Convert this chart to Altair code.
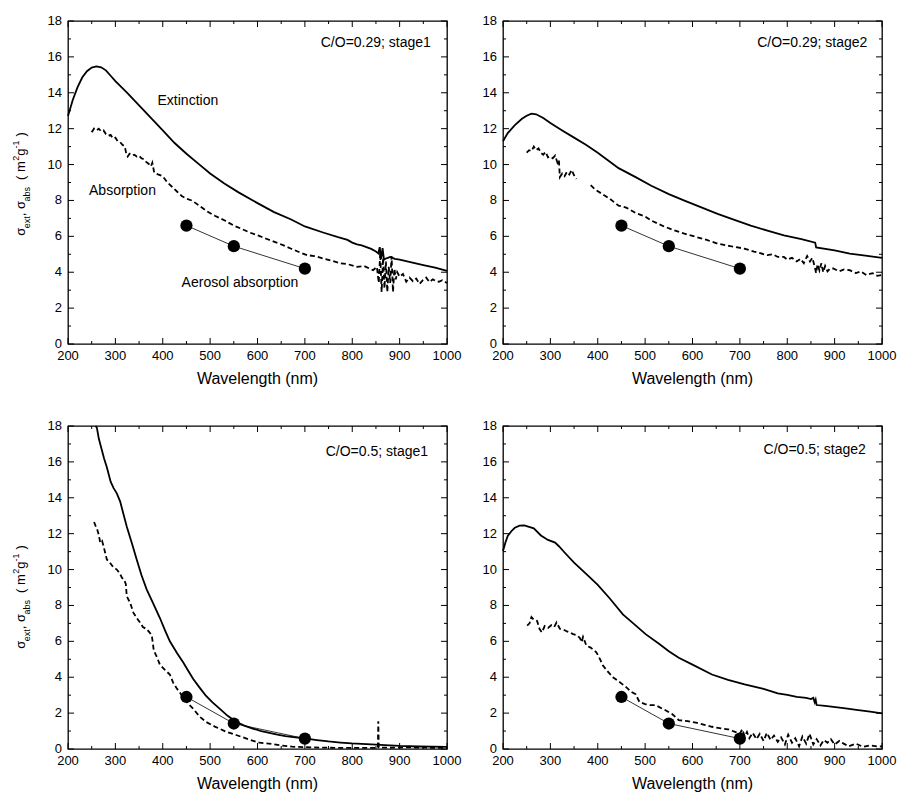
import altair as alt
import pandas as pd

# ---------------- data ----------------
X_MAJOR = [200, 300, 400, 500, 600, 700, 800, 900, 1000]
X_MINOR = [250, 350, 450, 550, 650, 750, 850, 950]
Y_MAJOR = [0, 2, 4, 6, 8, 10, 12, 14, 16, 18]
Y_MINOR = [1, 3, 5, 7, 9, 11, 13, 15, 17]

AER_WL = [450, 550, 700]
AER_029 = [6.6, 5.45, 4.2]
AER_05 = [2.9, 1.42, 0.58]

TL_EXT = [(200, 12.7), (210, 13.6), (220, 14.3), (230, 14.85), (240, 15.2), (250, 15.4), (260, 15.47),
          (270, 15.42), (280, 15.25), (290, 14.95), (300, 14.65), (325, 14.0), (350, 13.3), (375, 12.6),
          (400, 11.9), (425, 11.2), (450, 10.6), (475, 10.05), (500, 9.5), (530, 8.95), (560, 8.45),
          (600, 7.85), (635, 7.35), (670, 6.95), (700, 6.55), (740, 6.2), (770, 5.95), (790, 5.8),
          (800, 5.65), (810, 5.55), (820, 5.5), (830, 5.4), (840, 5.3), (850, 5.15), (855, 5.05),
          (858, 5.4), (861, 4.75), (864, 5.35), (867, 4.7), (870, 4.75), (875, 4.8), (880, 4.85),
          (885, 4.8), (890, 4.75), (900, 4.7), (925, 4.55), (950, 4.4), (975, 4.25), (1000, 4.08)]

TL_ABS = [(250, 11.8), (255, 12.0), (260, 11.9), (265, 12.0), (270, 11.85), (275, 11.9), (280, 11.7),
          (285, 11.6), (290, 11.65), (295, 11.45), (300, 11.5), (305, 11.3), (310, 11.25), (315, 11.1),
          (320, 11.0), (323, 10.6), (326, 10.45), (330, 10.6), (335, 10.5), (340, 10.55), (345, 10.45),
          (350, 10.5), (355, 10.35), (360, 10.3), (365, 10.15), (370, 10.05), (375, 9.9), (378, 10.1),
          (382, 9.55), (390, 9.45), (400, 9.35), (410, 9.0), (420, 8.75), (430, 8.5), (440, 8.25),
          (450, 8.1), (462, 7.99), (475, 7.75), (496, 7.35), (510, 7.15), (531, 6.88), (550, 6.6),
          (566, 6.42), (585, 6.2), (601, 6.05), (620, 5.85), (636, 5.69), (655, 5.5), (670, 5.32),
          (690, 5.1), (705, 4.95), (720, 4.9), (740, 4.76), (760, 4.62), (775, 4.49), (790, 4.45),
          (810, 4.3), (825, 4.35), (844, 4.11), (852, 4.3), (856, 3.4), (859, 5.1), (862, 2.9),
          (865, 4.8), (868, 3.1), (871, 4.6), (874, 2.9), (877, 4.3), (880, 3.4), (883, 4.9),
          (886, 2.9), (889, 4.2), (892, 3.6), (895, 4.0), (900, 3.75), (907, 3.9), (914, 3.47),
          (921, 3.7), (928, 3.5), (935, 3.65), (942, 3.35), (949, 3.56), (956, 3.7), (963, 3.45),
          (970, 3.6), (977, 3.5), (983, 3.47), (990, 3.55), (1000, 3.4)]

TR_EXT = [(200, 11.3), (210, 11.75), (225, 12.2), (240, 12.55), (250, 12.72), (260, 12.84), (270, 12.8),
          (285, 12.6), (300, 12.32), (325, 11.9), (350, 11.5), (375, 11.1), (400, 10.66), (444, 9.8),
          (480, 9.3), (513, 8.82), (550, 8.35), (583, 7.99), (620, 7.6), (653, 7.25), (690, 6.9),
          (723, 6.6), (760, 6.3), (793, 6.05), (830, 5.85), (859, 5.65), (861, 5.38), (900, 5.22),
          (932, 5.04), (965, 4.92), (1000, 4.8)]

TR_ABS_A = [(250, 10.66), (255, 10.8), (260, 10.75), (265, 11.0), (270, 10.8), (275, 10.9), (280, 10.65),
            (285, 10.55), (290, 10.7), (295, 10.4), (300, 10.45), (305, 10.35), (310, 10.5), (315, 10.1),
            (318, 10.25), (320, 9.3), (325, 9.5), (330, 9.35), (335, 9.6), (340, 9.45), (345, 9.7),
            (350, 9.4), (355, 9.2)]
TR_ABS_B = [(385, 8.85), (395, 8.6), (410, 8.35), (425, 8.1), (444, 7.71), (460, 7.6), (480, 7.3),
            (500, 7.1), (513, 6.88), (540, 6.55), (560, 6.35), (583, 6.15), (610, 5.95), (630, 5.8),
            (653, 5.59), (680, 5.45), (709, 5.32), (730, 5.15), (758, 4.95), (770, 5.0), (780, 4.85),
            (793, 4.85), (800, 4.7), (810, 4.8), (820, 4.6), (828, 4.75), (835, 4.5), (842, 4.9),
            (848, 4.6), (853, 4.8), (858, 4.3), (861, 3.95), (864, 4.45), (868, 4.1), (872, 4.5),
            (876, 4.0), (880, 4.35), (885, 4.05), (890, 4.2), (897, 4.21), (910, 4.05), (920, 4.15),
            (932, 4.11), (945, 3.95), (955, 4.05), (967, 3.84), (980, 3.95), (990, 3.8), (1000, 3.84)]

BL_EXT = [(258, 18.0), (261, 17.9), (265, 17.3), (270, 16.8), (276, 16.2), (282, 15.7), (290, 14.9),
          (296, 14.55), (303, 14.25), (310, 13.8), (317, 13.1), (324, 12.4), (335, 11.45), (345, 10.56),
          (355, 9.7), (366, 8.9), (380, 8.1), (394, 7.3), (405, 6.6), (415, 6.0), (430, 5.35),
          (443, 4.83), (454, 4.35), (464, 3.91), (477, 3.45), (490, 3.0), (505, 2.6), (520, 2.25),
          (537, 1.85), (555, 1.51), (572, 1.3), (590, 1.14), (608, 1.0), (625, 0.9), (642, 0.8),
          (659, 0.72), (680, 0.65), (701, 0.59), (725, 0.5), (750, 0.42), (775, 0.36), (799, 0.31),
          (830, 0.27), (850, 0.24), (869, 0.22), (900, 0.17), (940, 0.14), (970, 0.13), (1000, 0.12)]

BL_ABS = [(255, 12.65), (258, 12.45), (262, 12.2), (265, 11.94), (268, 11.5), (272, 11.6), (276, 11.2),
          (282, 10.56), (288, 10.4), (295, 10.15), (303, 10.0), (309, 9.8), (314, 9.54), (318, 9.45),
          (322, 9.2), (324, 8.53), (328, 8.3), (331, 8.16), (338, 7.6), (345, 7.3), (352, 7.05),
          (358, 6.8), (366, 6.68), (372, 6.5), (377, 6.31), (381, 5.5), (388, 5.1), (394, 4.7),
          (405, 4.4), (415, 4.15), (422, 3.7), (429, 3.4), (440, 3.0), (451, 2.6), (464, 2.25),
          (478, 1.8), (492, 1.5), (510, 1.25), (534, 0.96), (555, 0.78), (580, 0.55), (604, 0.35),
          (624, 0.3), (650, 0.2), (673, 0.13), (700, 0.1), (750, 0.07), (800, 0.06), (850, 0.06),
          (854, 0.06), (855, 1.55), (856, 0.08), (880, 0.07), (920, 0.09), (960, 0.07), (1000, 0.07)]

BR_EXT = [(200, 11.04), (205, 11.5), (210, 11.87), (218, 12.15), (225, 12.33), (235, 12.45), (245, 12.46),
          (255, 12.38), (265, 12.3), (280, 11.9), (295, 11.65), (310, 11.5), (318, 11.3), (330, 10.95),
          (350, 10.39), (380, 9.65), (400, 9.15), (425, 8.4), (453, 7.5), (475, 7.0), (501, 6.4),
          (530, 5.85), (550, 5.45), (571, 5.08), (600, 4.7), (641, 4.15), (675, 3.85), (710, 3.6),
          (750, 3.35), (780, 3.1), (800, 3.02), (820, 2.9), (840, 2.85), (850, 2.78), (855, 2.85),
          (858, 2.6), (860, 2.75), (862, 2.45), (880, 2.4), (919, 2.28), (950, 2.17), (975, 2.08),
          (1000, 1.99)]

BR_ABS = [(251, 6.87), (256, 7.0), (260, 7.35), (265, 7.2), (272, 7.14), (277, 6.7), (282, 6.5),
          (288, 6.85), (295, 6.75), (302, 6.9), (308, 6.8), (313, 7.05), (320, 6.7), (328, 6.65),
          (335, 6.55), (341, 6.5), (348, 6.4), (355, 6.35), (362, 6.2), (366, 5.95), (369, 6.25),
          (376, 5.76), (385, 5.65), (397, 5.39), (405, 5.0), (411, 4.65), (420, 4.35), (432, 4.0),
          (445, 3.75), (460, 3.45), (470, 3.2), (480, 3.05), (488, 2.62), (500, 2.5), (510, 2.45),
          (522, 2.44), (543, 2.16), (557, 1.95), (571, 1.61), (590, 1.55), (610, 1.45), (625, 1.35),
          (641, 1.24), (660, 1.15), (675, 1.1), (690, 0.95), (700, 0.85), (705, 1.1), (710, 0.7),
          (715, 0.95), (720, 0.6), (727, 0.9), (735, 0.55), (742, 0.85), (750, 0.45), (757, 0.9),
          (765, 0.5), (772, 0.75), (780, 0.4), (787, 0.65), (795, 0.25), (802, 0.8), (810, 0.35),
          (817, 0.6), (825, 0.15), (832, 0.7), (840, 0.3), (847, 0.85), (855, 0.25), (862, 0.55),
          (870, 0.2), (877, 0.5), (885, 0.35), (892, 0.55), (900, 0.25), (910, 0.45), (919, 0.3),
          (930, 0.15), (945, 0.3), (960, 0.12), (975, 0.2), (989, 0.15), (1000, 0.14)]

PANEL_LABELS = ["C/O=0.29; stage1", "C/O=0.29; stage2", "C/O=0.5; stage1", "C/O=0.5; stage2"]
PANEL_LABEL_POS = [(966, 16.76), (969, 16.76), (960, 16.56), (966, 16.65)]

TL_NOTES = ["Extinction", "Absorption", "Aerosol absorption"]
TL_NOTES_WL = [453, 315, 563]
TL_NOTES_V = [13.53, 8.55, 3.38]

X_TITLE = "Wavelength (nm)"

# ---------------- layout / style ----------------
W, H = 379, 323
FONT = "Liberation Sans"
XS = alt.Scale(domain=[200, 1000], nice=False, zero=False)
YS = alt.Scale(domain=[0, 18], nice=False, zero=False)
XE = alt.X("wl:Q", scale=XS, axis=None)
YE = alt.Y("v:Q", scale=YS, axis=None)

CHAR_W = {"σ": 0.58, "e": 0.556, "x": 0.5, "t": 0.278, ",": 0.278, " ": 0.278, "a": 0.556,
          "b": 0.556, "s": 0.5, "(": 0.333, ")": 0.333, "m": 0.833, "2": 0.556, "g": 0.556,
          "-": 0.333, "1": 0.556}


def ytitle_layers(center_y):
    # (text, font size, position kind, gap before in px)
    pieces = [("σ", 13, "main", 0), ("ext", 9, "sub", 0), (", σ", 13, "main", 0), ("abs", 9, "sub", 0),
              ("( m", 13, "main", 7), ("2", 9, "sup", 0.5), ("g", 13, "main", 0), ("-1", 9, "sup", 0),
              (")", 13, "main", 4)]
    base_x = {"main": -43, "sub": -38.5, "sup": -49}
    widths = [sum(CHAR_W.get(c, 0.55) for c in t) * fs for t, fs, _, _ in pieces]
    total = sum(widths) + sum(p[3] for p in pieces)
    y = center_y + total / 2
    layers = []
    for (t, fs, kind, gap), w in zip(pieces, widths):
        y -= gap
        layers.append(
            alt.Chart(pd.DataFrame({"t": [t]}))
            .mark_text(angle=270, align="left", baseline="alphabetic", fontSize=fs, font=FONT, color="black")
            .encode(text="t:N", x=alt.value(base_x[kind]), y=alt.value(y))
        )
        y -= w
    return layers


def axis_text_layers():
    xl = pd.DataFrame({"wl": X_MAJOR, "t": [str(v) for v in X_MAJOR]})
    yl = pd.DataFrame({"v": Y_MAJOR, "t": [str(v) for v in Y_MAJOR]})
    xt = pd.DataFrame({"t": [X_TITLE]})
    return [
        alt.Chart(xl).mark_text(align="center", baseline="top", fontSize=13, font=FONT, color="black").encode(
            x=XE, y=alt.value(H + 6), text="t:N"),
        alt.Chart(yl).mark_text(align="right", baseline="middle", fontSize=13, font=FONT, color="black").encode(
            y=YE, x=alt.value(-6), text="t:N"),
        alt.Chart(xt).mark_text(align="center", baseline="top", fontSize=16, font=FONT, color="black").encode(
            x=alt.value(W / 2), y=alt.value(H + 27), text="t:N"),
    ]


def tick_layers():
    out = []
    for vals, ln in ((X_MAJOR, 6), (X_MINOR, 3)):
        df = pd.DataFrame({"wl": vals})
        out.append(alt.Chart(df).mark_rule(color="black", strokeWidth=1).encode(
            x=XE, y=alt.value(H), y2=alt.value(H - ln)))
        out.append(alt.Chart(df).mark_rule(color="black", strokeWidth=1).encode(
            x=XE, y=alt.value(0), y2=alt.value(ln)))
    for vals, ln in ((Y_MAJOR, 6), (Y_MINOR, 3)):
        df = pd.DataFrame({"v": vals})
        out.append(alt.Chart(df).mark_rule(color="black", strokeWidth=1).encode(
            y=YE, x=alt.value(0), x2=alt.value(ln)))
        out.append(alt.Chart(df).mark_rule(color="black", strokeWidth=1).encode(
            y=YE, x=alt.value(W), x2=alt.value(W - ln)))
    return out


def panel(ext, abs_segments, aer_v, label, label_pos, notes=None, ytitle_center=None):
    ext_df = pd.DataFrame(ext, columns=["wl", "v"])
    rows = []
    for i, seg in enumerate(abs_segments):
        for wl, v in seg:
            rows.append({"wl": wl, "v": v, "seg": i})
    abs_df = pd.DataFrame(rows)
    aer_df = pd.DataFrame({"wl": AER_WL, "v": aer_v})

    ext_line = alt.Chart(ext_df).mark_line(color="black", strokeWidth=1.8).encode(x=XE, y=YE)
    abs_line = alt.Chart(abs_df).mark_line(color="black", strokeWidth=1.8, strokeDash=[5, 3]).encode(
        x=XE, y=YE, detail="seg:N")
    aer_line = alt.Chart(aer_df).mark_line(color="black", strokeWidth=0.8).encode(x=XE, y=YE)
    aer_pts = alt.Chart(aer_df).mark_circle(color="black", size=150, opacity=1).encode(x=XE, y=YE)

    lab_df = pd.DataFrame({"t": [label], "wl": [label_pos[0]], "v": [label_pos[1]]})
    lab = alt.Chart(lab_df).mark_text(align="right", baseline="middle", fontSize=14, font=FONT,
                                      color="black").encode(x=XE, y=YE, text="t:N")

    layers = [ext_line, abs_line, aer_line, aer_pts, lab] + tick_layers() + axis_text_layers()
    if notes is not None:
        nd = pd.DataFrame({"t": notes[0], "wl": notes[1], "v": notes[2]})
        layers.append(alt.Chart(nd).mark_text(align="center", baseline="middle", fontSize=14, font=FONT,
                                              color="black").encode(x=XE, y=YE, text="t:N"))
    if ytitle_center is not None:
        layers += ytitle_layers(ytitle_center)
    return alt.layer(*layers).properties(
        width=W, height=H, view=alt.ViewBackground(stroke="black", strokeWidth=1.3, fill="white"))


tl = panel(TL_EXT, [TL_ABS], AER_029, PANEL_LABELS[0], PANEL_LABEL_POS[0],
           notes=(TL_NOTES, TL_NOTES_WL, TL_NOTES_V), ytitle_center=163)
tr = panel(TR_EXT, [TR_ABS_A, TR_ABS_B], AER_029, PANEL_LABELS[1], PANEL_LABEL_POS[1])
bl = panel(BL_EXT, [BL_ABS], AER_05, PANEL_LABELS[2], PANEL_LABEL_POS[2], ytitle_center=171)
br = panel(BR_EXT, [BR_ABS], AER_05, PANEL_LABELS[3], PANEL_LABEL_POS[3])

chart = alt.concat(
    tl, tr, bl, br, columns=2, spacing={"row": 82, "column": 56}, bounds="flush",
).properties(
    padding={"left": 3, "top": 6, "right": 0, "bottom": 0},
    background="white",
).configure(font=FONT).configure_view(stroke="black", strokeWidth=1.3)

chart.save("out.html", embed_options={"renderer": "svg", "actions": False})
